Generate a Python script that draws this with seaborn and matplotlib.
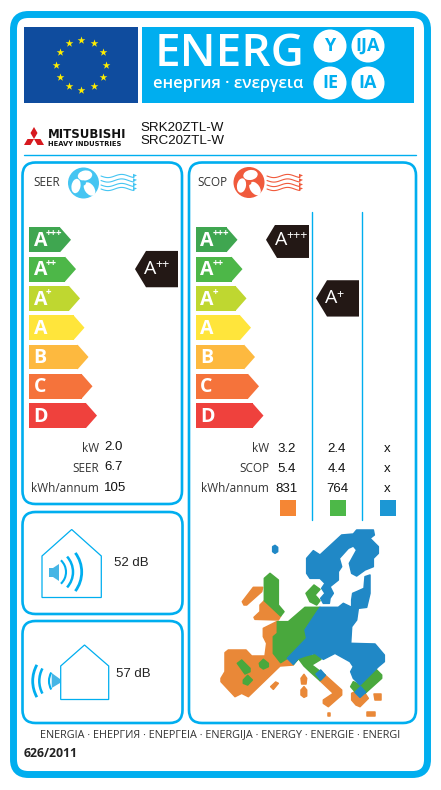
import numpy as np
import pandas as pd
import matplotlib
matplotlib.use('Agg')
import matplotlib.pyplot as plt
import seaborn as sns
from matplotlib.patches import Circle, Ellipse, FancyBboxPatch, Polygon, Rectangle, Arc

W, H = 441, 790
LABEL_FONT = ['Open Sans', 'DejaVu Sans']
NUM_FONT = ['Liberation Sans', 'DejaVu Sans']

BLUE = '#00AEEF'
TAG = '#231815'
ORANGE = '#E98838'
GREEN = '#49A83D'
MAP_BLUE = '#2088C6'

# rating classes
classes = ['A+++', 'A++', 'A+', 'A', 'B', 'C', 'D']
class_base = ['A', 'A', 'A', 'A', 'B', 'C', 'D']
class_sup = ['+++', '++', '+', '', '', '', '']
class_colors = ['#3FA650', '#4DB748', '#BFD730', '#FFE53B', '#FDB93F', '#F5733B', '#EF413D']
bar_lengths = [31, 36, 40, 44.5, 48.5, 52.5, 57]

# results
seer_rating = 'A++'
scop_ratings = ['A+++', 'A+', None]
seer_rows = ['kW', 'SEER', 'kWh/annum']
seer_values = ['2.0', '6.7', '105']
scop_rows = ['kW', 'SCOP', 'kWh/annum']
scop_col1 = ['3.2', '5.4', '831']
scop_col2 = ['2.4', '4.4', '764']
scop_col3 = ['x', 'x', 'x']
zone_colors = ['#F58634', '#4DB848', '#1C97D4']
noise_indoor = '52 dB'
noise_outdoor = '57 dB'

map_orange = [
    [(97, 215), (130, 172), (158, 172), (155, 185), (110, 225), (102, 225)],
    [(163, 212), (212, 258), (205, 270), (135, 268), (132, 262), (150, 245), (150, 225)],
    [(160, 295), (190, 280), (200, 275), (202, 310), (190, 320), (190, 370), (212, 398), (232, 385),
     (250, 405), (210, 408), (115, 500), (95, 490), (75, 500), (33, 455), (33, 445), (45, 425),
     (45, 368), (55, 360), (108, 360), (125, 378), (165, 378), (170, 340), (160, 320)],
    [(345, 435), (395, 480), (395, 495), (355, 530), (340, 520), (340, 510), (370, 490), (330, 452)],
    [(425, 490), (435, 485), (450, 495), (465, 490), (475, 505), (450, 530), (438, 525), (425, 510)],
    [(492, 492), (513, 492), (513, 510), (495, 510)],
    [(472, 545), (495, 545), (495, 558), (472, 558)],
    [(354, 550), (360, 550), (360, 557), (354, 557)],
    [(273, 445), (282, 433), (290, 445), (288, 462), (275, 462)],
    [(273, 480), (282, 470), (290, 480), (290, 498), (282, 502), (273, 495)],
    [(182, 470), (197, 456), (205, 460), (190, 478)],
]
map_green = [
    [(163, 145), (180, 130), (205, 150), (205, 225), (222, 245), (212, 258), (163, 212)],
    [(288, 190), (312, 165), (330, 178), (315, 195), (330, 212), (320, 225), (300, 215)],
    [(202, 275), (235, 275), (285, 232), (330, 232), (285, 295), (295, 322), (232, 385), (212, 398),
     (190, 370), (190, 320), (202, 310)],
    [(250, 403), (285, 365), (305, 378), (315, 370), (333, 388), (305, 405), (345, 435), (330, 452),
     (300, 425), (282, 408), (265, 385)],
    [(450, 465), (495, 415), (515, 435), (515, 445), (465, 490), (450, 470), (435, 485), (422, 470), (430, 455)],
    [(82, 400), (95, 390), (120, 415), (120, 425), (105, 432)],
    [(148, 400), (160, 388), (175, 400), (175, 410), (160, 417), (150, 410)],
    [(100, 450), (113, 436), (127, 450), (113, 465), (100, 460)],
]
map_blue = [
    [(290, 85), (310, 62), (330, 75), (395, 15), (430, 12), (440, 0), (490, 0), (493, 15), (480, 25),
     (505, 50), (505, 70), (490, 85), (490, 110), (465, 120), (440, 138), (425, 130), (418, 100),
     (440, 60), (430, 48), (415, 55), (388, 85), (395, 110), (385, 125), (385, 150), (360, 170),
     (370, 190), (360, 205), (358, 220), (340, 220), (332, 205), (345, 190), (335, 175), (345, 160),
     (330, 145), (300, 145), (290, 130)],
    [(330, 232), (385, 232), (400, 220), (425, 232), (425, 210), (428, 190), (440, 185), (462, 175),
     (465, 140), (480, 135), (480, 190), (470, 232), (445, 235), (440, 270), (425, 290), (422, 340),
     (495, 342), (523, 375), (523, 395), (505, 410), (450, 465), (430, 445), (422, 425), (430, 410),
     (420, 395), (375, 370), (340, 388), (315, 370), (285, 378), (265, 385), (250, 403), (232, 385),
     (290, 325), (285, 300)],
    [(188, 50), (195, 46), (203, 52), (203, 65), (195, 70), (188, 65)],
    [(318, 432), (332, 420), (346, 436), (332, 450)],
    [(435, 487), (452, 470), (467, 487), (450, 502)],
]


def panel_box(ax, x0, y0, x1, y1, r=13, lw=1.9):
    ax.add_patch(FancyBboxPatch((x0 + r, y0 + r), x1 - x0 - 2 * r, y1 - y0 - 2 * r,
                                boxstyle=f'round,pad={r},rounding_size={r}',
                                fc='white', ec=BLUE, lw=lw))


def fan(ax, cx, cy, color):
    ax.add_patch(Circle((cx, cy), 15.5, color=color, lw=0))
    ax.add_patch(Ellipse((cx + 1.5, cy - 7.5), 14.5, 10, angle=-10, color='white', lw=0))
    ax.add_patch(Ellipse((cx - 7.5, cy + 3), 14.5, 9, angle=100, color='white', lw=0))
    ax.add_patch(Ellipse((cx + 6, cy + 6), 15, 9.5, angle=55, color='white', lw=0))
    ax.add_patch(Circle((cx, cy), 2.4, color=color, lw=0))


def waves(ax, x0, color):
    t = np.linspace(0, 1, 40)
    for y0 in [176, 180.5, 185, 189]:
        ax.plot(x0 + 33 * t, y0 + 1.6 * np.sin(2 * np.pi * t * 1.2), color=color, lw=0.8)
        ax.add_patch(Polygon([(x0 + 32, y0 - 2.2), (x0 + 36, y0 - 0.6), (x0 + 32, y0 + 1.5)], color=color, lw=0))


def sound_arcs(ax, cx, cy, radii, half_angles, facing):
    for r, half, lw in zip(radii, half_angles, [1.5, 1.8, 2.0]):
        ax.add_patch(Arc((cx, cy), 2 * r, 2 * r, theta1=facing - half, theta2=facing + half, color=BLUE, lw=lw))


def draw_classes(rect, ratings, tag_rights):
    """Bars and black tags of one panel, x axis in pixels, y axis in classes."""
    x0, x1 = rect
    y_top, pitch = 225.15, 29.3
    ax = fig.add_axes([x0 / W, 1 - (y_top + 7 * pitch) / H, (x1 - x0) / W, 7 * pitch / H])
    df = pd.DataFrame({'cls': classes, 'length': bar_lengths})
    sns.barplot(data=df, x='length', y='cls', hue='cls', palette=dict(zip(classes, class_colors)),
                order=classes, legend=False, dodge=False, width=0.85, saturation=1, linewidth=0, ax=ax)
    ax.set_xlim(0, x1 - x0)
    ax.set_ylim(6.5, -0.5)
    ax.axis('off')
    ax.patch.set_alpha(0)
    for i, (length, color) in enumerate(zip(bar_lengths, class_colors)):
        ax.add_patch(Polygon([(length, i - 0.425), (length + 11, i), (length, i + 0.425)], color=color, lw=0))
        ax.text(4.5, i + 0.04, class_base[i], color='white', fontsize=14, fontweight='bold',
                family=LABEL_FONT, ha='left', va='center')
        if class_sup[i]:
            ax.text(17, i - 0.2, class_sup[i], color='white', fontsize=7, fontweight='bold',
                    family=LABEL_FONT, ha='left', va='center')
    for rating, right in zip(ratings, tag_rights):
        if rating is None:
            continue
        i = classes.index(rating)
        ax.add_patch(Polygon([(right - 43, i), (right - 32, i - 0.62), (right, i - 0.62),
                              (right, i + 0.62), (right - 32, i + 0.62)], color=TAG, lw=0))
        ax.text(right - 34, i, 'A', color='white', fontsize=14, family=LABEL_FONT, ha='left', va='center')
        ax.text(right - 23, i - 0.14, rating[1:], color='white', fontsize=9, family=LABEL_FONT,
                ha='left', va='center')
    return ax


sns.set_theme(style='white')
plt.rcParams['font.family'] = LABEL_FONT

fig = plt.figure(figsize=(W / 100, H / 100), dpi=100, facecolor='white')
page = fig.add_axes([0, 0, 1, 1])
page.set_xlim(0, W)
page.set_ylim(H, 0)
page.axis('off')

# outer frame
page.add_patch(FancyBboxPatch((29, 30), W - 58, 729, boxstyle='round,pad=15.5,rounding_size=15',
                              fc='white', ec=BLUE, lw=5))

# flag
page.add_patch(Rectangle((24, 27), 114, 76, color='#0F4C9E', lw=0))
ang = np.deg2rad(np.arange(0, 360, 30))
page.scatter(81.3 + 25 * np.cos(ang), 64.5 + 25 * np.sin(ang), marker='*', s=34, color='#FFED00', lw=0)

# energy banner
page.add_patch(Rectangle((142, 27), 272, 76, color=BLUE, lw=0))
page.text(155, 55, 'ENERG', color='white', fontsize=33, fontweight='semibold', family=LABEL_FONT,
          ha='left', va='center')
page.text(153, 84, 'енергия · ενεργεια', color='white', fontsize=11.8, fontweight='semibold',
          family=LABEL_FONT, ha='left', va='center')
for cx, cy, txt in [(330, 46, 'Y'), (368, 46, 'IJA'), (330, 83, 'IE'), (368, 83, 'IA')]:
    page.add_patch(Circle((cx, cy), 16.5, color='white', lw=0))
    page.text(cx, cy, txt, color=BLUE, fontsize=13, fontweight='bold', family=LABEL_FONT,
              ha='center', va='center')

# supplier
for pts in [[(34, 127), (37.5, 133), (34, 139), (30.5, 133)],
            [(27.5, 139), (34, 139), (30.5, 145), (24, 145)],
            [(34, 139), (40.5, 139), (44, 145), (37.5, 145)]]:
    page.add_patch(Polygon(pts, color='#D7191F', lw=0))
page.text(47.5, 134.5, 'MITSUBISHI', color='#111111', fontsize=8.5, fontweight='bold',
          family=['DejaVu Sans'], ha='left', va='center')
page.text(47.5, 143.5, 'HEAVY INDUSTRIES', color='#111111', fontsize=4.9, fontweight='bold',
          family=['DejaVu Sans'], ha='left', va='center')
page.text(140, 128, 'SRK20ZTL-W', color='#111111', fontsize=9.6, family=NUM_FONT, ha='left', va='center')
page.text(140, 141, 'SRC20ZTL-W', color='#111111', fontsize=9.6, family=NUM_FONT, ha='left', va='center')
page.plot([24, 416], [155, 155], color=BLUE, lw=1)

# panels
panel_box(page, 22.5, 162.5, 182, 504)
panel_box(page, 189, 162.5, 416, 723)
panel_box(page, 22.5, 512, 182.5, 614)
panel_box(page, 22.5, 621, 182.5, 723)

page.text(33.5, 183, 'SEER', color='#333333', fontsize=8.5, family=LABEL_FONT, ha='left', va='center')
page.text(197, 183, 'SCOP', color='#333333', fontsize=8.5, family=LABEL_FONT, ha='left', va='center')
fan(page, 83.5, 183, '#45C5F2')
fan(page, 249, 182.5, '#F05A3C')
waves(page, 101, '#45C5F2')
waves(page, 267, '#F05A3C')

for x in [312.3, 362.3]:
    page.plot([x, x], [212, 520], color=BLUE, lw=1)

draw_classes((29, 178), [seer_rating], [149])
draw_classes((195.5, 362), scop_ratings, [113.5, 163.5, 213])

# value rows
row_y = [448.5, 468.5, 489]
for y, name, val in zip(row_y, seer_rows, seer_values):
    page.text(99, y, name, color='#333333', fontsize=8.5, family=LABEL_FONT, ha='right', va='center')
    page.text(104, y - 1, val, color='#111111', fontsize=9.5, family=NUM_FONT, ha='left', va='center')
for y, name, a, b, c in zip(row_y, scop_rows, scop_col1, scop_col2, scop_col3):
    page.text(269, y, name, color='#333333', fontsize=8.5, family=LABEL_FONT, ha='right', va='center')
    page.text(287, y, a, color='#111111', fontsize=9.5, family=NUM_FONT, ha='center', va='center')
    page.text(337, y, b, color='#111111', fontsize=9.5, family=NUM_FONT, ha='center', va='center')
    page.text(387, y, c, color='#111111', fontsize=9.5, family=NUM_FONT, ha='center', va='center')
for x, color in zip([280, 330, 380], zone_colors):
    page.add_patch(Rectangle((x, 500), 16, 16, color=color, lw=0))

# noise panels
page.add_patch(Polygon([(42, 597.5), (42, 556), (71.7, 529.5), (101.3, 556), (101.3, 597.5)],
                       closed=True, fc='white', ec=BLUE, lw=0.9))
page.add_patch(Polygon([(49, 568), (53, 568), (59, 564), (59, 581), (53, 577), (49, 577)], color='#45B5E5', lw=0))
sound_arcs(page, 50, 572, [16, 23, 31.7], [47, 42, 37], 0)
page.text(114.5, 563.5, noise_indoor, color='#222222', fontsize=9.5, family=NUM_FONT, ha='left', va='center')

page.add_patch(Polygon([(60.7, 699.5), (60.7, 666), (84.5, 645), (108.7, 666), (108.7, 699.5)],
                       closed=True, fc='white', ec=BLUE, lw=0.9))
page.add_patch(Polygon([(51.7, 673), (60, 679), (60, 683), (51.7, 688)], color='#45B5E5', lw=0))
sound_arcs(page, 66, 681, [17, 26.7, 33.3], [30, 28, 29], 180)
page.text(115.5, 674, noise_outdoor, color='#222222', fontsize=9.5, family=NUM_FONT, ha='left', va='center')

# map
for shapes, color in [(map_orange, ORANGE), (map_green, GREEN), (map_blue, MAP_BLUE)]:
    for shape in shapes:
        pts = [(210 + x / 3, 530 + y / 3) for x, y in shape]
        page.add_patch(Polygon(pts, fc=color, ec=color, lw=1.1, joinstyle='round'))

# footer
page.text(40, 735, 'ENERGIA · ЕНЕРГИЯ · ΕΝΕΡΓΕΙΑ · ENERGIJA · ENERGY · ENERGIE · ENERGI', color='#333333',
          fontsize=7.85, family=LABEL_FONT, ha='left', va='center')
page.text(24, 753.5, '626/2011', color='#222222', fontsize=8.8, fontweight='bold', family=LABEL_FONT,
          ha='left', va='center')

fig.savefig('out.png', dpi=100)
